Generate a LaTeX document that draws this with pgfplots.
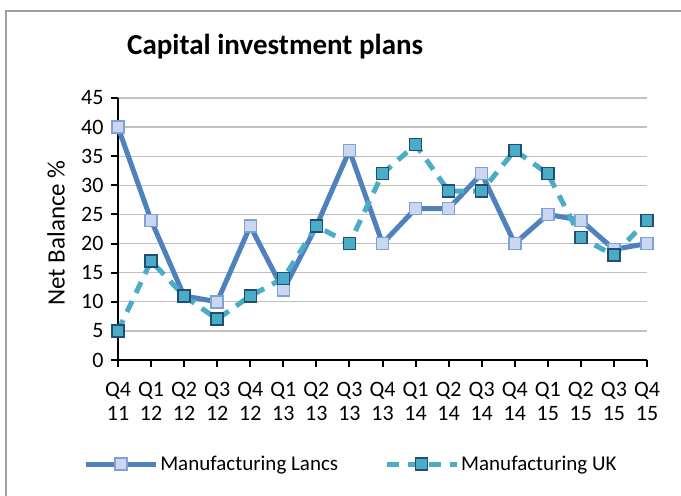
\documentclass[border=0pt]{standalone}
\usepackage{pgfplots}
\pgfplotsset{compat=1.18}
\usepackage{fontspec}
\setmainfont{Carlito}

\definecolor{lancs}{HTML}{4F81BD}
\definecolor{lancsfill}{HTML}{CAD7EE}
\definecolor{lancsedge}{HTML}{7EA1D6}
\definecolor{uk}{HTML}{4BACC6}
\definecolor{ukedge}{HTML}{1F4E79}
\definecolor{gridgray}{HTML}{C0C0C0}

\begin{document}
\begin{tikzpicture}[x=1pt,y=1pt]
\useasboundingbox (0,0) rectangle (681,496);
% chart frame (cropped on the right and bottom)
\draw[gray!75, line width=1.5pt] (6,0) -- (6,485) -- (681,485);
\node[font=\fontsize{29}{34}\selectfont\bfseries, anchor=west, inner sep=0pt] at (127,449) {Capital investment plans};

\begin{axis}[
  at={(118pt,136pt)}, anchor=south west,
  scale only axis, width=529pt, height=262pt,
  xmin=0, xmax=16, ymin=0, ymax=45,
  axis x line=bottom, axis y line=left,
  axis line style={line width=2pt, black, -},
  tick align=outside, major tick length=7pt,
  tick style={line width=2pt, black},
  xtick={0,...,16}, ytick={0,5,...,45},
  xticklabels={{Q4\\11},{Q1\\12},{Q2\\12},{Q3\\12},{Q4\\12},{Q1\\13},{Q2\\13},{Q3\\13},{Q4\\13},{Q1\\14},{Q2\\14},{Q3\\14},{Q4\\14},{Q1\\15},{Q2\\15},{Q3\\15},{Q4\\15}},
  xticklabel style={align=center, yshift=-12pt},
  yticklabel style={xshift=-4pt},
  ticklabel style={font=\fontsize{22}{24}\selectfont},
  /pgf/number format/assume math mode=true,
  ymajorgrids, major grid style={gridgray, line width=1.3pt},
  ylabel={Net Balance \%},
  every axis y label/.style={at={(axis description cs:-0.117,0.485)}, rotate=90, anchor=center, font=\fontsize{25}{28}\selectfont},
  legend columns=2,
  legend cell align=left,
  legend style={at={(axis description cs:-0.066,-0.397)}, anchor=west, draw=none, fill=none, inner sep=0pt,
    font=\fontsize{21}{24}\selectfont,
    /tikz/every even column/.append style={column sep=44pt}},
  legend image code/.code={\draw[mark repeat=2,mark phase=2,#1] plot coordinates {(0pt,0pt) (35pt,0pt) (70pt,0pt)};},
]
\addplot[lancs, line width=5pt, mark=square*, mark size=6pt,
  mark options={solid, fill=lancsfill, draw=lancsedge, line width=1.5pt}]
  coordinates {(0,40) (1,24) (2,11) (3,10) (4,23) (5,12) (6,23) (7,36) (8,20) (9,26) (10,26) (11,32) (12,20) (13,25) (14,24) (15,19) (16,20)};
\addlegendentry{Manufacturing Lancs}
\addplot[uk, line width=5pt, dash pattern=on 12pt off 9pt, mark=square*, mark size=6pt,
  mark options={solid, fill=uk, draw=ukedge, line width=1.5pt}]
  coordinates {(0,5) (1,17) (2,11) (3,7) (4,11) (5,14) (6,23) (7,20) (8,32) (9,37) (10,29) (11,29) (12,36) (13,32) (14,21) (15,18) (16,24)};
\addlegendentry{Manufacturing UK}
\end{axis}
\end{tikzpicture}
\end{document}
